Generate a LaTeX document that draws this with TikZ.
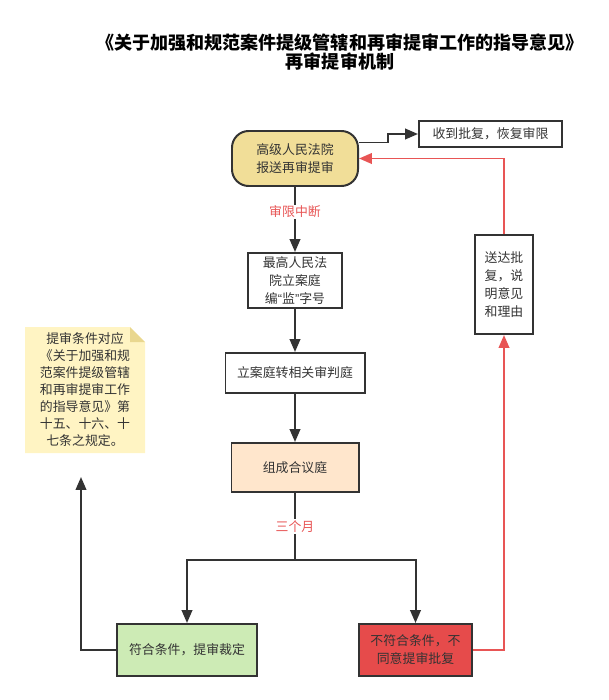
\documentclass[tikz,border=0pt]{standalone}
\usepackage{fontspec}
\setmainfont{Noto Sans CJK SC}
\newfontfamily\latinfont{Liberation Sans}
\usetikzlibrary{arrows.meta}

\definecolor{txtgray}{HTML}{333333}
\definecolor{linegray}{HTML}{333333}
\definecolor{redline}{HTML}{E85555}
\definecolor{startfill}{HTML}{F1DE98}
\definecolor{peachfill}{HTML}{FFE6CC}
\definecolor{greenfill}{HTML}{CDEBB5}
\definecolor{redfill}{HTML}{E64B4B}
\definecolor{notefill}{HTML}{FFF4C3}
\definecolor{notefold}{HTML}{E9D78F}

\tikzset{
  box/.style={draw=linegray, line width=1.7pt, text=txtgray, align=center,
    inner sep=0pt, font=\fontsize{11pt}{15.4pt}\selectfont},
  startbox/.style={box, fill=startfill, rounded corners=0.5cm},
  lbl/.style={text=redline, fill=white, inner sep=1pt,
    font=\fontsize{11pt}{13pt}\selectfont},
  arr/.style={draw=linegray, line width=1.7pt, -{Triangle[length=11pt,width=9pt]}},
  redarr/.style={draw=redline, line width=1.7pt, -{Triangle[length=11pt,width=9pt]}}
}

\begin{document}
\begin{tikzpicture}[x=0.03cm, y=-0.03cm]
    \useasboundingbox (0,0) rectangle (608,700);

    % Titulo
    \node[align=center, text=black, font=\fontsize{15.4pt}{16.5pt}\selectfont\bfseries]
        (title) at (340,52) {《关于加强和规范案件提级管辖和再审提审工作的指导意见》\\再审提审机制};

    % Cajas del flujo
    \node[startbox, minimum width=3.78cm, minimum height=1.65cm] (report) at (295,158.5) {高级人民法院\\报送再审提审};
    \node[box, minimum width=4.29cm, minimum height=0.78cm] (resume) at (490.5,134) {收到批复，恢复审限};
    \node[box, minimum width=2.82cm, minimum height=1.65cm] (filing) at (295,280.5) {最高人民法\\院立案庭\\编{\latinfont“}监{\latinfont”}字号};
    \node[box, minimum width=4.17cm, minimum height=1.2cm] (transfer) at (295,373) {立案庭转相关审判庭};
    \node[box, fill=peachfill, minimum width=3.81cm, minimum height=1.47cm] (panel) at (295,467.5) {组成合议庭};
    \node[box, fill=greenfill, minimum width=4.2cm, minimum height=1.56cm] (accept) at (187,650) {符合条件，提审裁定};
    \node[box, fill=redfill, minimum width=3.39cm, minimum height=1.56cm] (reject) at (415.5,650) {不符合条件，不\\同意提审批复};
    \node[box, minimum width=1.74cm, minimum height=2.97cm] (reply) at (504,284.5) {送达批\\复，说\\明意见\\和理由};

    % Nota
    \fill[notefill] (25,327) -- (130,327) -- (145,342) -- (145,453) -- (25,453) -- cycle;
    \fill[notefold] (130,327) -- (145,342) -- (130,342) -- cycle;
    \node[align=center, text=txtgray, font=\fontsize{11pt}{14.5pt}\selectfont]
        (note) at (85,390) {提审条件对应\\《关于加强和规\\范案件提级管辖\\和再审提审工作\\的指导意见》第\\十五、十六、十\\七条之规定。};

    % Puntos auxiliares
    \coordinate (split) at (295,560);
    \coordinate (noteend) at (81,477);

    % Conectores
    \draw[arr] ([yshift=0.48cm]report.east) -- ++(29,0) |- (resume.west);
    \draw[arr] (report.south) -- node[lbl, pos=0.38] {审限中断} (filing.north);
    \draw[arr] (filing.south) -- (transfer.north);
    \draw[arr] (transfer.south) -- (panel.north);
    \draw[draw=linegray, line width=1.7pt] (panel.south) -- node[lbl] {三个月} (split);
    \draw[arr] (split) -| (accept.north);
    \draw[arr] (split) -| (reject.north);
    \draw[arr] (accept.west) -| (noteend);
    \draw[redarr] (reject.east) -| (reply.south);
    \draw[redarr] (reply.north) |- (report.east);

\end{tikzpicture}
\end{document}
